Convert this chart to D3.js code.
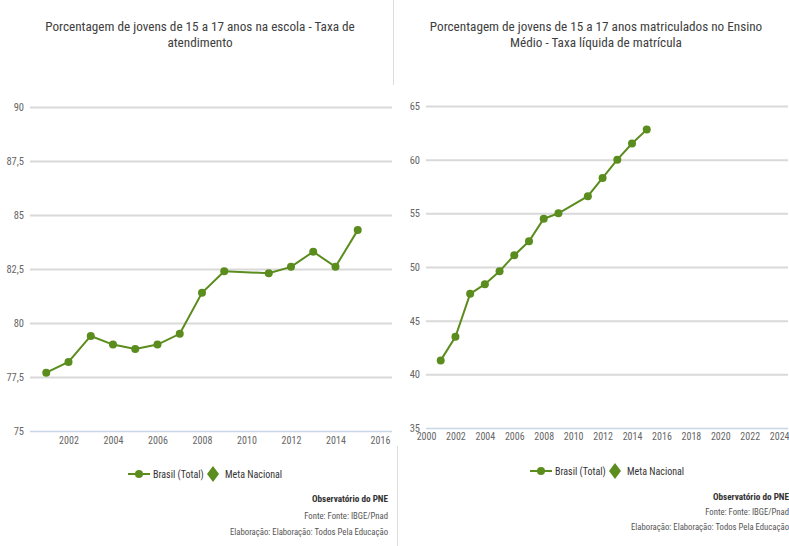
<!DOCTYPE html>
<html><head><meta charset="utf-8">
<script src="https://cdn.jsdelivr.net/npm/d3@7"></script>
<style>body{margin:0;background:#fff}svg{display:block}text{font-family:"Liberation Sans Narrow","Roboto Condensed","DejaVu Sans Condensed",sans-serif}</style>
</head><body>
<script>
const years1 = [2001,2002,2003,2004,2005,2006,2007,2008,2009,2011,2012,2013,2014,2015];
const atendimento = [77.7,78.2,79.4,79.0,78.8,79.0,79.5,81.4,82.4,82.3,82.6,83.3,82.6,84.3];
const years2 = [2001,2002,2003,2004,2005,2006,2007,2008,2009,2011,2012,2013,2014,2015];
const matricula = [41.3,43.5,47.5,48.4,49.6,51.1,52.4,54.5,55.0,56.6,58.3,60.0,61.5,62.8];
const yTicks1 = [75,77.5,80,82.5,85,87.5,90];
const yTicks2 = [35,40,45,50,55,60,65];
const xTicks1 = [2002,2004,2006,2008,2010,2012,2014,2016];
const xTicks2 = [2000,2002,2004,2006,2008,2010,2012,2014,2016,2018,2020,2022,2024];
const titles1 = ["Porcentagem de jovens de 15 a 17 anos na escola - Taxa de","atendimento"];
const titles2 = ["Porcentagem de jovens de 15 a 17 anos matriculados no Ensino","Médio - Taxa líquida de matrícula"];
const legendLabels = ["Brasil (Total)","Meta Nacional"];
const credits = ["Observatório do PNE","Fonte: Fonte: IBGE/Pnad","Elaboração: Elaboração: Todos Pela Educação"];

const W=789,H=546, green="#5B8C1E";
const svg=d3.select("body").append("svg").attr("width",W).attr("height",H);
const fmt=v=>String(v).replace(".",",");

// panel dividers
svg.append("line").attr("x1",393.5).attr("x2",393.5).attr("y1",0).attr("y2",85).attr("stroke","#ddd");
svg.append("line").attr("x1",397.5).attr("x2",397.5).attr("y1",446).attr("y2",546).attr("stroke","#ddd");

function chart(o){
  const g=svg.append("g");
  const x=d3.scaleLinear().domain(o.xDomain).range(o.xRange);
  const y=d3.scaleLinear().domain(o.yDomain).range(o.yRange);
  // title
  o.titles.forEach((t,i)=>g.append("text").attr("x",o.titleX).attr("y",o.titleY+i*16)
    .attr("text-anchor","middle").attr("font-size",13.2).attr("fill","#3e3e3e").text(t));
  // grid
  const ya=d3.axisLeft(y).tickValues(o.yTicks).tickSize(-(o.xRange[1]-o.xRange[0])).tickFormat(fmt).tickPadding(6);
  const gy=g.append("g").attr("transform",`translate(${o.xRange[0]},0)`).call(ya);
  gy.select(".domain").remove();
  gy.selectAll(".tick line").attr("stroke","#d9d9d9").attr("stroke-width",2);
  gy.selectAll(".tick").filter(d=>d===o.yDomain[0]).select("line").attr("stroke","#c8d6e6").attr("stroke-width",1.5);
  gy.selectAll(".tick text").attr("font-size",10.5).attr("fill","#666").attr("font-family",null);
  // x axis
  const xa=d3.axisBottom(x).tickValues(o.xTicks).tickFormat(d3.format("d")).tickSize(0).tickPadding(o.xPad);
  const gx=g.append("g").attr("transform",`translate(0,${o.yRange[0]})`).call(xa);
  gx.select(".domain").remove();
  gx.selectAll(".tick text").attr("font-size",10).attr("fill","#666").attr("font-family",null);
  // line
  const data=o.years.map((yr,i)=>[yr,o.values[i]]);
  g.append("path").datum(data).attr("fill","none").attr("stroke",green).attr("stroke-width",2)
    .attr("d",d3.line().x(d=>x(d[0])).y(d=>y(d[1])));
  g.selectAll("circle.pt").data(data).join("circle").attr("class","pt")
    .attr("cx",d=>x(d[0])).attr("cy",d=>y(d[1])).attr("r",4).attr("fill",green);
  // legend
  const lx=o.legendX, ly=o.legendY;
  g.append("line").attr("x1",lx).attr("x2",lx+22).attr("y1",ly).attr("y2",ly).attr("stroke",green).attr("stroke-width",2);
  g.append("circle").attr("cx",lx+11).attr("cy",ly).attr("r",4).attr("fill",green);
  g.append("text").attr("x",lx+25).attr("y",ly+3.5).attr("font-size",10).attr("fill","#333").text(legendLabels[0]);
  g.append("path").attr("d",`M${lx+85},${ly-8}L${lx+91},${ly}L${lx+85},${ly+8}L${lx+79},${ly}Z`).attr("fill",green);
  g.append("text").attr("x",lx+97).attr("y",ly+3.5).attr("font-size",10).attr("fill","#333").text(legendLabels[1]);
  // credits
  credits.forEach((c,i)=>g.append("text").attr("x",o.creditX).attr("y",o.creditY[i])
    .attr("text-anchor","end").attr("font-size",i===0?9.2:8.7).attr("font-weight",i===0?"bold":"normal")
    .attr("fill",i===0?"#333":"#555").text(c));
}

chart({titles:titles1,titleX:200,titleY:31,xDomain:[2000.27,2016.54],xRange:[30,392],
  yDomain:[75,90],yRange:[431,107],yTicks:yTicks1,xTicks:xTicks1,xPad:6,
  years:years1,values:atendimento,legendX:128,legendY:474,creditX:388,creditY:[502,519,535]});
chart({titles:titles2,titleX:596,titleY:31,xDomain:[2000,2024.6],xRange:[426,788],
  yDomain:[35,65],yRange:[428,106],yTicks:yTicks2,xTicks:xTicks2,xPad:5,
  years:years2,values:matricula,legendX:530,legendY:471,creditX:789,creditY:[500,515,530]});
</script>
</body></html>
